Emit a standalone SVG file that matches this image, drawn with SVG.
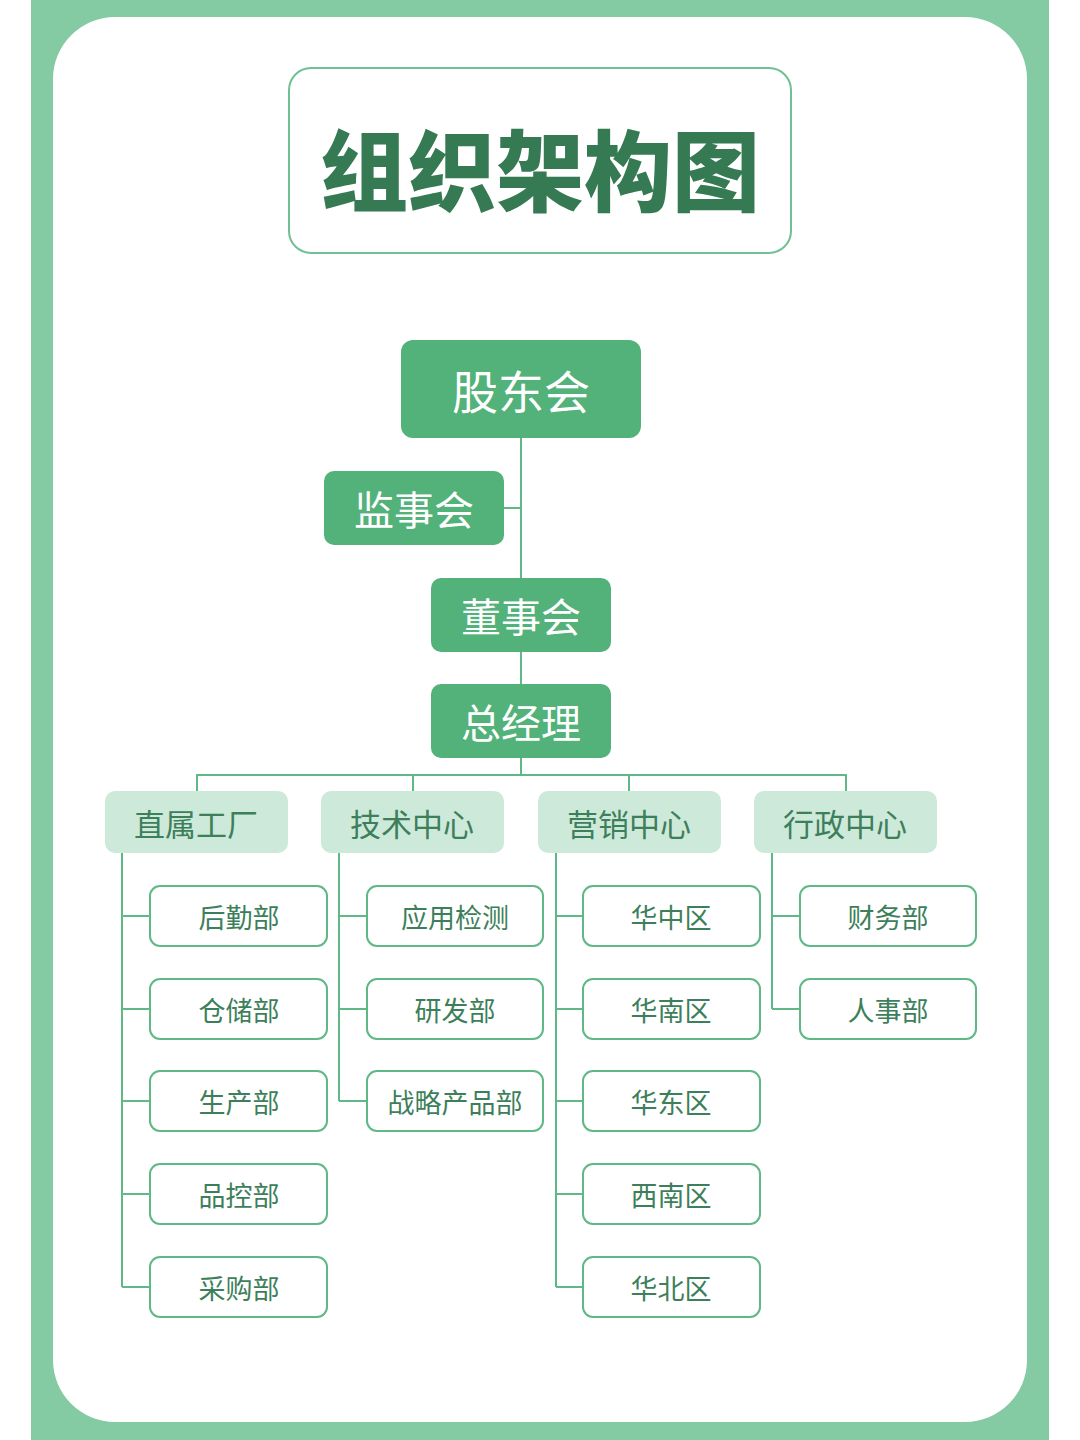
<svg xmlns="http://www.w3.org/2000/svg" width="1080" height="1440" viewBox="0 0 1080 1440">
<style>
text{font-family:"Noto Sans CJK SC","Liberation Sans",sans-serif;text-anchor:middle;dominant-baseline:central}
.top{fill:#52b27a}
.top text{fill:#fff;font-size:46px}
.cat rect{fill:#cde9da}
.cat text{fill:#3d7f5a;font-size:31px}
.leaf rect{fill:#fff;stroke:#5fb886;stroke-width:2}
.leaf text{fill:#3d7f5a;font-size:27px}
.ln{stroke:#5fb886;stroke-width:2;fill:none}
</style>
<rect width="1080" height="1440" fill="#fff"/>
<rect x="31" y="0" width="1018" height="1440" fill="#84caa2"/>
<rect x="53" y="17" width="974" height="1405" rx="62" fill="#fff"/>
<g id="title"><rect x="289" y="68" width="502" height="185" rx="22" fill="#fff" stroke="#6fc093" stroke-width="2"/>
<text x="540" y="165" font-size="88" font-weight="900" fill="#357a52">组织架构图</text></g>
<g id="connectors" class="ln">
<path d="M521 438V775M504 508H521M197 791V775H846V791M413 775V791M629 775V791"/>
<path d="M122 853V1287M122 916H150M122 1009H150M122 1101H150M122 1194H150M122 1287H150"/>
<path d="M339 853V1101M339 916H367M339 1009H367M339 1101H367"/>
<path d="M556 853V1287M556 916H583M556 1009H583M556 1101H583M556 1194H583M556 1287H583"/>
<path d="M772 853V1009M772 916H800M772 1009H800"/>
</g>
<g id="gudonghui" class="top"><rect x="401" y="340" width="240" height="98" rx="12"/><text x="521" y="389">股东会</text></g>
<g id="jianshihui" class="top"><rect x="324" y="471" width="180" height="74" rx="10"/><text x="414" y="508" style="font-size:40px">监事会</text></g>
<g id="dongshihui" class="top"><rect x="431" y="578" width="180" height="74" rx="10"/><text x="521" y="615" style="font-size:40px">董事会</text></g>
<g id="zongjingli" class="top"><rect x="431" y="684" width="180" height="74" rx="10"/><text x="521" y="721" style="font-size:40px">总经理</text></g>
<g id="c1" class="cat"><rect x="105" y="791" width="183" height="62" rx="10"/><text x="196" y="822">直属工厂</text></g>
<g id="c2" class="cat"><rect x="321" y="791" width="183" height="62" rx="10"/><text x="412" y="822">技术中心</text></g>
<g id="c3" class="cat"><rect x="538" y="791" width="183" height="62" rx="10"/><text x="629" y="822">营销中心</text></g>
<g id="c4" class="cat"><rect x="754" y="791" width="183" height="62" rx="10"/><text x="845" y="822">行政中心</text></g>
<g id="l1" class="leaf"><rect x="150" y="886" width="177" height="60" rx="10"/><text x="239" y="916">后勤部</text></g>
<g id="l2" class="leaf"><rect x="150" y="979" width="177" height="60" rx="10"/><text x="239" y="1009">仓储部</text></g>
<g id="l3" class="leaf"><rect x="150" y="1071" width="177" height="60" rx="10"/><text x="239" y="1101">生产部</text></g>
<g id="l4" class="leaf"><rect x="150" y="1164" width="177" height="60" rx="10"/><text x="239" y="1194">品控部</text></g>
<g id="l5" class="leaf"><rect x="150" y="1257" width="177" height="60" rx="10"/><text x="239" y="1287">采购部</text></g>
<g id="t1" class="leaf"><rect x="367" y="886" width="176" height="60" rx="10"/><text x="455" y="916">应用检测</text></g>
<g id="t2" class="leaf"><rect x="367" y="979" width="176" height="60" rx="10"/><text x="455" y="1009">研发部</text></g>
<g id="t3" class="leaf"><rect x="367" y="1071" width="176" height="60" rx="10"/><text x="455" y="1101">战略产品部</text></g>
<g id="s1" class="leaf"><rect x="583" y="886" width="177" height="60" rx="10"/><text x="671" y="916">华中区</text></g>
<g id="s2" class="leaf"><rect x="583" y="979" width="177" height="60" rx="10"/><text x="671" y="1009">华南区</text></g>
<g id="s3" class="leaf"><rect x="583" y="1071" width="177" height="60" rx="10"/><text x="671" y="1101">华东区</text></g>
<g id="s4" class="leaf"><rect x="583" y="1164" width="177" height="60" rx="10"/><text x="671" y="1194">西南区</text></g>
<g id="s5" class="leaf"><rect x="583" y="1257" width="177" height="60" rx="10"/><text x="671" y="1287">华北区</text></g>
<g id="a1" class="leaf"><rect x="800" y="886" width="176" height="60" rx="10"/><text x="888" y="916">财务部</text></g>
<g id="a2" class="leaf"><rect x="800" y="979" width="176" height="60" rx="10"/><text x="888" y="1009">人事部</text></g>
</svg>
